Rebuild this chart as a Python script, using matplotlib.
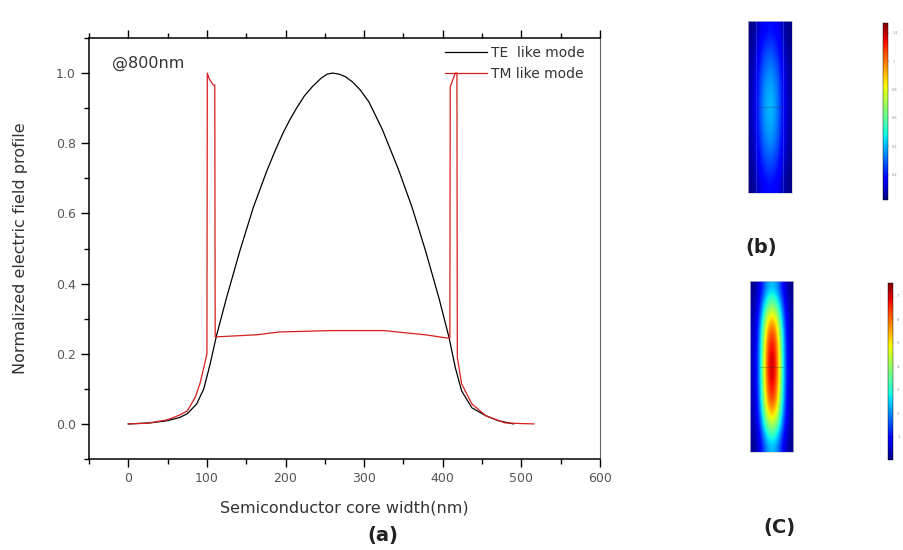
import numpy as np
import matplotlib
matplotlib.use('Agg')
import matplotlib.pyplot as plt
from matplotlib.ticker import MultipleLocator

# TE like mode profile
te_x = [0, 28, 49, 65, 75, 87, 96, 104, 112, 125, 142, 159, 176, 187, 197, 205,
        214, 224, 234, 245, 253, 260, 268, 276, 285, 295, 306, 323, 344, 361,
        378, 395, 408, 416, 424, 437, 455, 471, 490]
te_y = [0, 0.003, 0.009, 0.018, 0.029, 0.057, 0.10, 0.17, 0.25, 0.36, 0.494,
        0.617, 0.72, 0.78, 0.83, 0.865, 0.90, 0.935, 0.961, 0.985, 0.997, 1.0,
        0.997, 0.99, 0.975, 0.952, 0.918, 0.84, 0.723, 0.617, 0.494, 0.36,
        0.246, 0.16, 0.094, 0.046, 0.023, 0.009, 0]

# TM like mode profile
tm_x = [0, 25, 50, 65, 75, 85, 91, 96, 100, 100.5, 103, 108, 110, 110.5, 163,
        192, 256, 325, 378, 405, 409, 409.5, 416, 418, 418.5, 424, 437, 455,
        479, 500, 516]
tm_y = [0, 0.002, 0.012, 0.025, 0.037, 0.075, 0.114, 0.16, 0.2, 1.0, 0.983,
        0.966, 0.966, 0.248, 0.254, 0.262, 0.266, 0.266, 0.254, 0.245, 0.245,
        0.961, 1.0, 1.0, 0.19, 0.114, 0.057, 0.023, 0.003, 0.001, 0]

# mode cross sections: column / row profiles
b_cols = [0.15, 0.32, 0.68, 0.9, 1.0, 0.9, 0.68, 0.32, 0.15]
b_rows = [0.45, 0.6, 0.75, 0.88, 0.96, 1.0, 0.96, 0.88, 0.75, 0.6, 0.45]
b_peak = 0.42
b_range = (0.02, 1.27)
b_ticks = [0.2, 0.4, 0.6, 0.8, 1.0, 1.2]
b_ticklabels = ['0.2', '0.4', '0.6', '0.8', '1', '1.2']

c_cols = [0.05, 0.14, 0.48, 0.86, 1.0, 0.86, 0.48, 0.14, 0.05]
c_rows = [0.32, 0.52, 0.75, 0.9, 0.97, 1.0, 0.97, 0.9, 0.75, 0.52, 0.32]
c_peak = 7.4
c_range = (0, 7.55)
c_ticks = [1, 2, 3, 4, 5, 6, 7]

fig = plt.figure(figsize=(9.04, 5.5), dpi=100)

# ---- panel (a)
ax = fig.add_axes([89/904, 91/550, 511/904, 421/550])
ax.plot(te_x, te_y, color='black', lw=0.9, label='TE  like mode')
ax.plot(tm_x, tm_y, color='#d81e1e', lw=0.9, label='TM like mode')
ax.set_xlim(-50, 600)
ax.set_ylim(-0.1, 1.1)
ax.xaxis.set_major_locator(MultipleLocator(100))
ax.xaxis.set_minor_locator(MultipleLocator(50))
ax.yaxis.set_major_locator(MultipleLocator(0.2))
ax.yaxis.set_minor_locator(MultipleLocator(0.1))
ax.yaxis.set_major_formatter(plt.FormatStrFormatter('%.1f'))
ax.tick_params(which='both', direction='out', top=True, right=False,
               labelsize=9, labelcolor='#555555', width=1)
ax.tick_params(which='major', length=6)
ax.tick_params(which='minor', length=3.5)
for s in ['left', 'bottom', 'top']:
    ax.spines[s].set_linewidth(1.1)
ax.spines['right'].set_color('#666666')
ax.set_xlabel('Semiconductor core width(nm)', fontsize=11.5, color='#333333', labelpad=11)
ax.set_ylabel('Normalized electric field profile', fontsize=11.5, color='#333333', labelpad=20)
ax.text(0.045, 0.94, '@800nm', transform=ax.transAxes, fontsize=11.5,
        color='#333333', va='center')
ax.legend(loc='upper right', bbox_to_anchor=(0.995, 1.01), frameon=False,
          fontsize=10, handlelength=3.0, handletextpad=0.3, labelspacing=0.45,
          labelcolor='#333333')
fig.text(383/904, 1 - 535/550, '(a)', fontsize=14, fontweight='bold',
         color='#222222', ha='center', va='center')


def mode_panel(img_rect, cb_rect, cols, rows, peak, vrange, ticks, labels, tag, tag_xy):
    iax = fig.add_axes(img_rect)
    field = np.outer(rows, cols) * peak
    im = iax.imshow(field, cmap='jet', vmin=vrange[0], vmax=vrange[1],
                    aspect='auto', interpolation='bicubic', extent=[0, 1, 0, 1])
    iax.axhline(0.5, xmin=0.2, xmax=0.8, color='#333333', lw=0.4, alpha=0.5)
    iax.set_xticks([])
    iax.set_yticks([])
    for sp in iax.spines.values():
        sp.set_color('#cccccc')
        sp.set_linewidth(0.5)
    cax = fig.add_axes(cb_rect)
    cb = fig.colorbar(im, cax=cax)
    cb.set_ticks(ticks)
    cb.set_ticklabels(labels)
    cb.outline.set_linewidth(0.3)
    cax.tick_params(labelsize=2.5, labelcolor='#888888', length=1, width=0.3,
                    color='#888888', pad=2)
    fig.text(tag_xy[0] / 904, 1 - tag_xy[1] / 550, tag, fontsize=14,
             fontweight='bold', color='#222222', ha='center', va='center')
    return iax


bax = mode_panel([748/904, 357/550, 44/904, 172/550],
                 [883/904, 350/550, 5/904, 177/550],
                 b_cols, b_rows, b_peak, b_range, b_ticks, b_ticklabels,
                 '(b)', (761, 247))
bax.axvline(0.18, color='#6fa8ff', lw=0.4, alpha=0.5)
bax.axvline(0.80, color='#6fa8ff', lw=0.4, alpha=0.5)

mode_panel([750/904, 98/550, 43/904, 171/550],
           [888/904, 90/550, 5/904, 177/550],
           c_cols, c_rows, c_peak, c_range, c_ticks, [str(t) for t in c_ticks],
           '(C)', (779, 527))

fig.savefig('out.png', dpi=100)
